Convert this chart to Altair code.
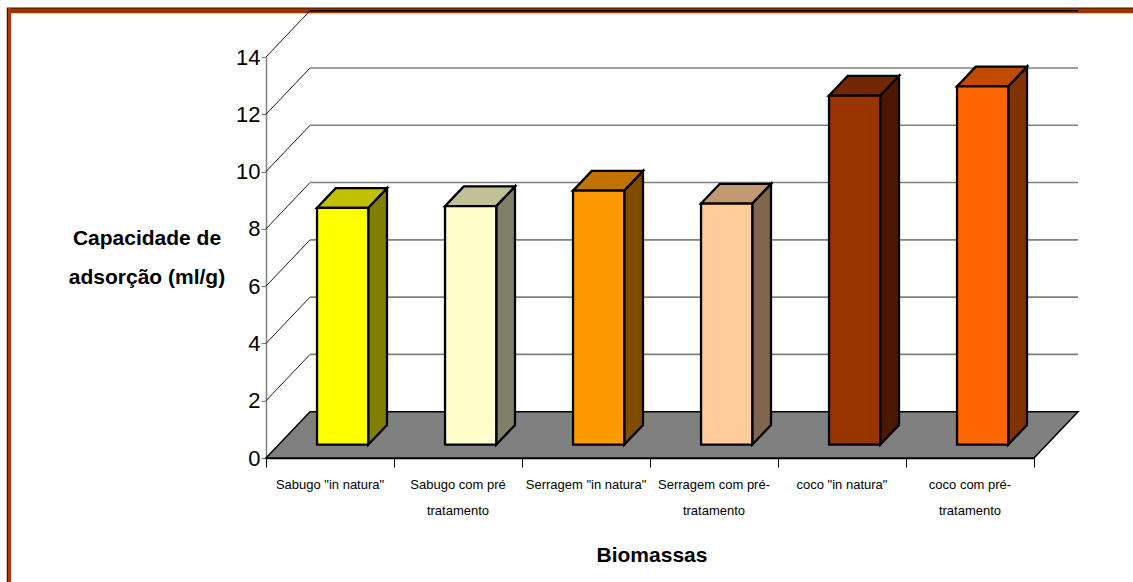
import altair as alt
import pandas as pd

# ---- data -------------------------------------------------------------
categories = [
    'Sabugo "in natura"',
    "Sabugo com pré\ntratamento",
    'Serragem "in natura"',
    "Serragem com pré-\ntratamento",
    'coco "in natura"',
    "coco com pré-\ntratamento",
]
capacity = [8.27, 8.33, 8.87, 8.42, 12.19, 12.51]
y_ticks = [0, 2, 4, 6, 8, 10, 12, 14]

# face colours of each box: front, right side, top
front_colors = ["#FFFF00", "#FFFFCC", "#FF9900", "#FFCC99", "#993300", "#FF6600"]
side_colors = ["#808000", "#808066", "#804C00", "#80664C", "#4C1900", "#803300"]
top_colors = ["#C0C000", "#C0C099", "#C07300", "#C09973", "#732600", "#C04C00"]

# ---- oblique 3-D projection (in data units) ---------------------------
N = len(categories)
Y_MAX = 14
DEPTH_X = 0.344      # horizontal shift of the back plane, category units
DEPTH_Y = 1.617      # vertical shift of the back plane, value units
BAR_FRONT = 0.287    # depth fraction of the bar front face
BAR_BACK = 0.713     # depth fraction of the bar back face
BAR_HALF = 0.2       # half bar width, category units

FONT = "Liberation Sans, Arial, Helvetica, sans-serif"

xs = alt.Scale(domain=[0, N], nice=False, zero=False)
ys = alt.Scale(domain=[0, Y_MAX], nice=False, zero=False)


def X(field, **kw):
    return alt.X(field, type="quantitative", scale=xs, stack=None, **kw)


def Y(field, **kw):
    return alt.Y(field, type="quantitative", scale=ys, stack=None, **kw)


# ---- walls and floor --------------------------------------------------
wall_diag = pd.DataFrame({
    "x": [0.0] * (len(y_ticks) - 1),
    "x2": [DEPTH_X] * (len(y_ticks) - 1),
    "y": [float(v) for v in y_ticks[1:]],
    "y2": [v + DEPTH_Y for v in y_ticks[1:]],
})
wall_grid = pd.DataFrame({
    "x": [DEPTH_X] * (len(y_ticks) - 1),
    "x2": [N + DEPTH_X] * (len(y_ticks) - 1),
    "y": [v + DEPTH_Y for v in y_ticks[1:]],
    "stroke": ["#808080"] * (len(y_ticks) - 2) + ["#000000"],
})
floor = pd.DataFrame({
    "y": [0.0, DEPTH_Y],
    "x": [0.0, DEPTH_X],
    "x2": [float(N), N + DEPTH_X],
})

diag_layer = alt.Chart(wall_diag).mark_rule(color="#000000", strokeWidth=0.9).encode(
    x=X("x"), x2="x2", y=Y("y"), y2="y2"
)
grid_layer = alt.Chart(wall_grid).mark_rule(strokeWidth=1.6).encode(
    x=X("x"), x2="x2", y=Y("y"),
    color=alt.Color("stroke:N", scale=None),
)
floor_layer = alt.Chart(floor).mark_area(
    orient="horizontal", fill="#808080", stroke="#000000", strokeWidth=1.5,
    strokeJoin="miter",
).encode(
    y=Y("y", axis=alt.Axis(
        values=y_ticks, title=None, grid=False,
        labelFont=FONT, labelFontSize=22, labelColor="#000000",
        labelPadding=1, tickSize=5, tickColor="#808080",
        domainColor="#808080", domainWidth=1.5, tickWidth=1.2,
    )),
    x=X("x", axis=alt.Axis(
        values=list(range(N + 1)), labels=False, title=None, grid=False,
        tickSize=9, tickColor="#000000", tickWidth=1,
        domainColor="#000000", domainWidth=1.5,
    )),
    x2="x2",
)

# ---- boxes ------------------------------------------------------------
shift_x = (BAR_BACK - BAR_FRONT) * DEPTH_X
front_rows, side_rows, top_rows = [], [], []
for i, v in enumerate(capacity):
    xl = i + 0.5 - BAR_HALF + BAR_FRONT * DEPTH_X
    xr = i + 0.5 + BAR_HALF + BAR_FRONT * DEPTH_X
    lo_f = BAR_FRONT * DEPTH_Y
    lo_b = BAR_BACK * DEPTH_Y
    front_rows.append({"bar": i, "x": xl, "x2": xr, "y": lo_f, "y2": v + lo_f,
                       "color": front_colors[i]})
    side_rows += [
        {"bar": i, "x": xr, "lo": lo_f, "hi": v + lo_f, "color": side_colors[i]},
        {"bar": i, "x": xr + shift_x, "lo": lo_b, "hi": v + lo_b, "color": side_colors[i]},
    ]
    top_rows += [
        {"bar": i, "y": v + lo_f, "x": xl, "x2": xr, "color": top_colors[i]},
        {"bar": i, "y": v + lo_b, "x": xl + shift_x, "x2": xr + shift_x,
         "color": top_colors[i]},
    ]

edge = dict(stroke="#000000", strokeWidth=2.3, strokeJoin="miter")

side_layer = alt.Chart(pd.DataFrame(side_rows)).mark_area(orient="vertical", **edge).encode(
    x=X("x"), y=Y("hi"), y2="lo",
    detail="bar:N", fill=alt.Fill("color:N", scale=None),
)
top_layer = alt.Chart(pd.DataFrame(top_rows)).mark_area(orient="horizontal", **edge).encode(
    y=Y("y"), x=X("x"), x2="x2",
    detail="bar:N", fill=alt.Fill("color:N", scale=None),
)
front_layer = alt.Chart(pd.DataFrame(front_rows)).mark_rect(**edge).encode(
    x=X("x"), x2="x2", y=Y("y"), y2="y2",
    fill=alt.Fill("color:N", scale=None),
)

# ---- texts ------------------------------------------------------------
labels = pd.DataFrame({"pos": [i + 0.5 for i in range(N)], "label": categories})
label_layer = alt.Chart(labels).mark_text(
    font=FONT, fontSize=13, color="#000000", align="center",
    baseline="alphabetic", lineBreak="\n", lineHeight=26,
).encode(x=X("pos"), y=alt.value(432), text="label:N")

titles = pd.DataFrame({
    "t": ["Capacidade de\nadsorção (ml/g)", "Biomassas"],
    "px": [-119, 386],
    "py": [188, 505],
})
title_layer = alt.Chart(titles).mark_text(
    font=FONT, fontSize=21, fontWeight="bold", color="#000000",
    align="center", baseline="alphabetic", lineBreak="\n", lineHeight=39,
).encode(
    x=alt.X("px:Q", scale=None), y=alt.Y("py:Q", scale=None), text="t:N"
)

# ---- outer frame (top and left edges) ---------------------------------
frame_rows = pd.DataFrame({
    "x": [-259, -259, -259, -258.5, -256.5],
    "x2": [867, 867, 867, -258.5, -256.5],
    "y": [-46.5, -49, -43.3, -49, -49],
    "y2": [-46.5, -49, -43.3, 525, 525],
    "c": ["#993300", "#3A1200", "#E8B898", "#3A1200", "#A83C10"],
    "w": [5.0, 1.2, 1.0, 1.5, 3.2],
})
frame_layer = alt.Chart(frame_rows).mark_rule().encode(
    x=alt.X("x:Q", scale=None), x2="x2",
    y=alt.Y("y:Q", scale=None), y2="y2",
    color=alt.Color("c:N", scale=None),
    strokeWidth=alt.StrokeWidth("w:Q", scale=None),
)

chart = alt.layer(
    frame_layer, diag_layer, grid_layer, floor_layer,
    side_layer, top_layer, front_layer, label_layer, title_layer,
).properties(
    width=768, height=401,
    autosize=alt.AutoSizeParams(type="none"),
    padding={"left": 266, "top": 57, "right": 99, "bottom": 124},
    background="#FFFFFF",
).configure_view(stroke="transparent")

chart.save("out.html", embed_options={"renderer": "svg", "actions": False})
